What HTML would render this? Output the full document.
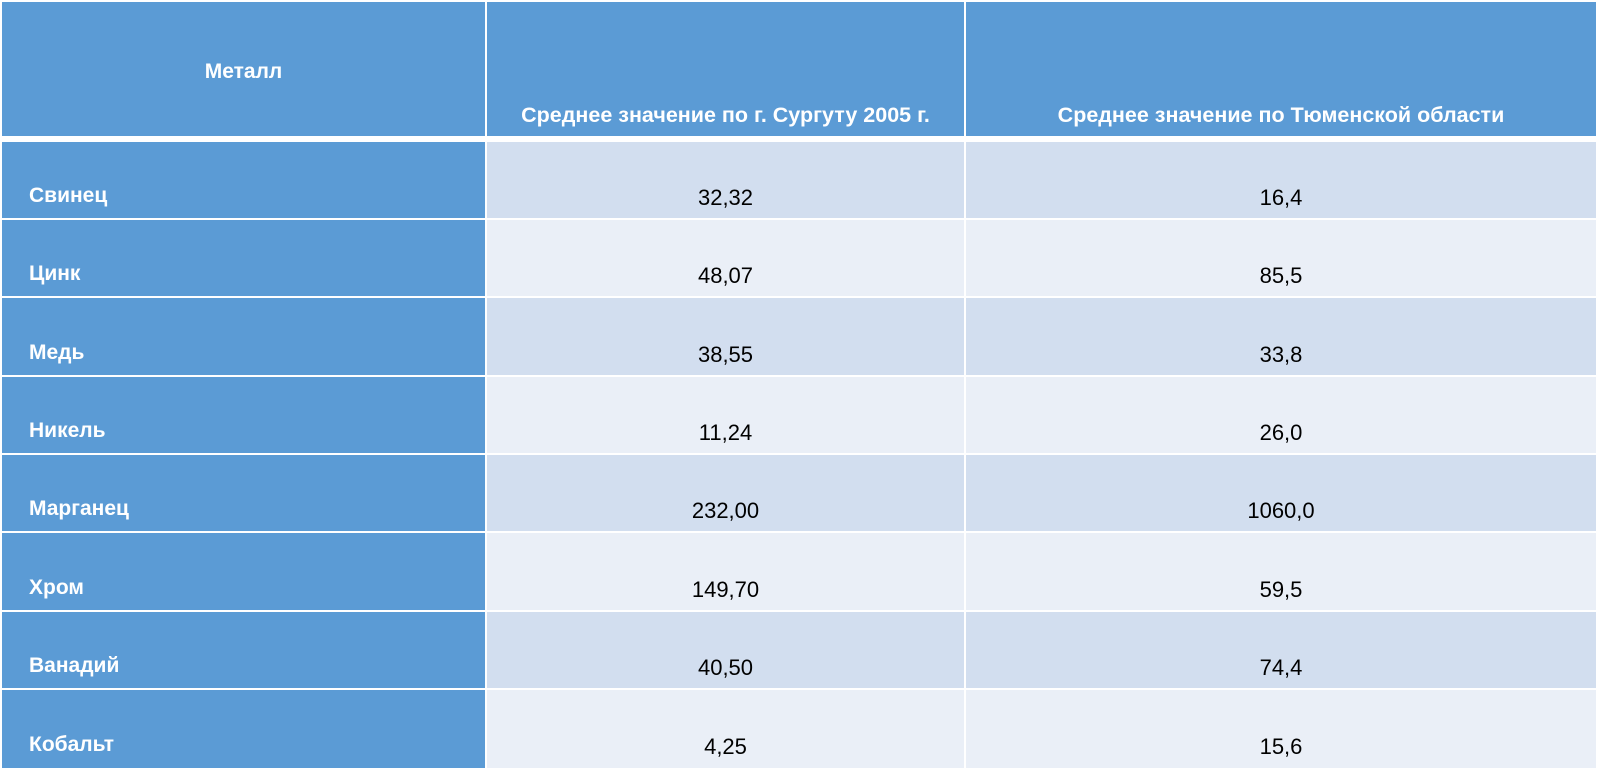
<!DOCTYPE html>
<html><head><meta charset="utf-8"><style>
html,body{margin:0;padding:0;}
body{width:1602px;height:776px;background:#fff;position:relative;overflow:hidden;font-family:"Liberation Sans","DejaVu Sans",sans-serif;}
.c{position:absolute;box-sizing:border-box;}
.t{position:absolute;white-space:nowrap;font-size:22px;line-height:24px;}
.h{background:#5B9BD5;}
.o{background:#D2DEEF;}
.e{background:#EAEFF7;}
.w{color:#fff;font-weight:bold;font-size:21px;}
.c1{left:2px;width:483px;}
.c2{left:487px;width:477px;}
.c3{left:966px;width:630px;}
.n{left:29px;}
.v2{left:487px;width:477px;text-align:center;}
.v3{left:966px;width:630px;text-align:center;}
</style></head><body>
<div class="c h c1" style="top:2px;height:134px"></div>
<div class="c h c2" style="top:2px;height:134px"></div>
<div class="c h c3" style="top:2px;height:134px"></div>
<div class="t w" style="left:2px;width:483px;text-align:center;top:60px">Металл</div>
<div class="t w v2" style="top:103px;font-size:21.5px">Среднее значение по г. Сургуту 2005 г.</div>
<div class="t w v3" style="top:103px;font-size:21.5px">Среднее значение по Тюменской области</div>

<div class="c h c1" style="top:142px;height:76px"></div><div class="c o c2" style="top:142px;height:76px"></div><div class="c o c3" style="top:142px;height:76px"></div>
<div class="t w n" style="top:184px">Свинец</div><div class="t v2" style="top:186px">32,32</div><div class="t v3" style="top:186px">16,4</div>

<div class="c h c1" style="top:220px;height:76px"></div><div class="c e c2" style="top:220px;height:76px"></div><div class="c e c3" style="top:220px;height:76px"></div>
<div class="t w n" style="top:262px">Цинк</div><div class="t v2" style="top:264px">48,07</div><div class="t v3" style="top:264px">85,5</div>

<div class="c h c1" style="top:298px;height:77px"></div><div class="c o c2" style="top:298px;height:77px"></div><div class="c o c3" style="top:298px;height:77px"></div>
<div class="t w n" style="top:341px">Медь</div><div class="t v2" style="top:343px">38,55</div><div class="t v3" style="top:343px">33,8</div>

<div class="c h c1" style="top:377px;height:76px"></div><div class="c e c2" style="top:377px;height:76px"></div><div class="c e c3" style="top:377px;height:76px"></div>
<div class="t w n" style="top:419px">Никель</div><div class="t v2" style="top:421px">11,24</div><div class="t v3" style="top:421px">26,0</div>

<div class="c h c1" style="top:455px;height:76px"></div><div class="c o c2" style="top:455px;height:76px"></div><div class="c o c3" style="top:455px;height:76px"></div>
<div class="t w n" style="top:497px">Марганец</div><div class="t v2" style="top:499px">232,00</div><div class="t v3" style="top:499px">1060,0</div>

<div class="c h c1" style="top:533px;height:77px"></div><div class="c e c2" style="top:533px;height:77px"></div><div class="c e c3" style="top:533px;height:77px"></div>
<div class="t w n" style="top:576px">Хром</div><div class="t v2" style="top:578px">149,70</div><div class="t v3" style="top:578px">59,5</div>

<div class="c h c1" style="top:612px;height:76px"></div><div class="c o c2" style="top:612px;height:76px"></div><div class="c o c3" style="top:612px;height:76px"></div>
<div class="t w n" style="top:654px">Ванадий</div><div class="t v2" style="top:656px">40,50</div><div class="t v3" style="top:656px">74,4</div>

<div class="c h c1" style="top:690px;height:78px"></div><div class="c e c2" style="top:690px;height:78px"></div><div class="c e c3" style="top:690px;height:78px"></div>
<div class="t w n" style="top:733px">Кобальт</div><div class="t v2" style="top:735px">4,25</div><div class="t v3" style="top:735px">15,6</div>
</body></html>
